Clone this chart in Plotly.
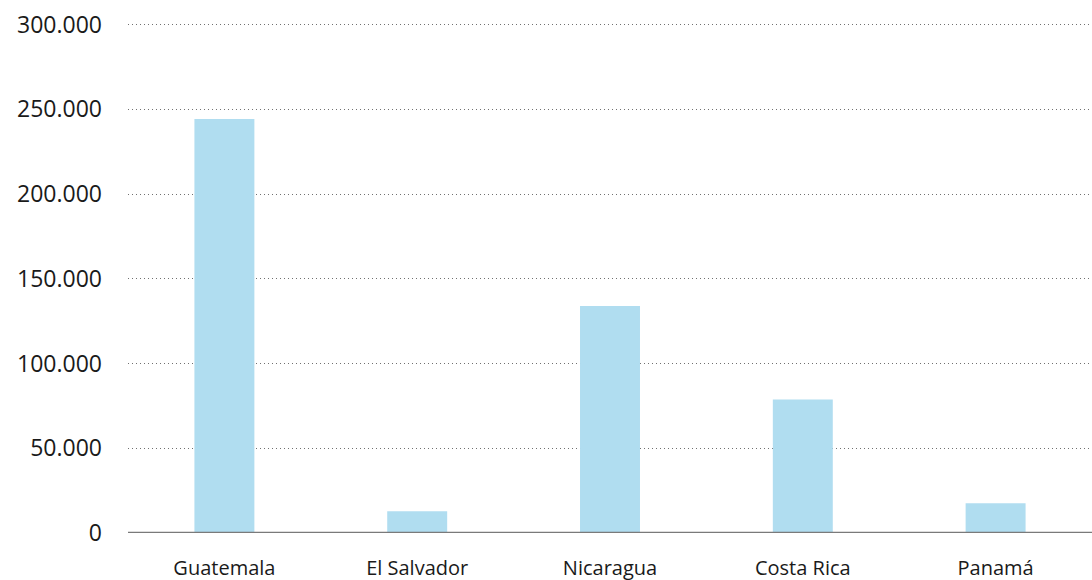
import plotly.graph_objects as go

countries = ["Guatemala", "El Salvador", "Nicaragua", "Costa Rica", "Panamá"]
values = [244200, 12900, 133900, 78700, 17600]
y_ticks = [0, 50000, 100000, 150000, 200000, 250000, 300000]

fig = go.Figure()
fig.add_trace(go.Bar(
    x=countries, y=values,
    marker=dict(color="#b0ddf0", line=dict(width=0)),
    hoverinfo="x+y",
))
fig.add_shape(type="line", xref="paper", yref="y", x0=0, x1=1, y0=0, y1=0,
              line=dict(color="#7a7a7a", width=2.5), layer="above")

fig.update_layout(
    width=1092, height=580,
    margin=dict(l=128, r=0, t=22, b=47, autoexpand=False),
    paper_bgcolor="white", plot_bgcolor="white",
    separators=",.",
    bargap=0.689,
    showlegend=False,
    font=dict(family="Open Sans, sans-serif", color="#1a1a1a"),
)
fig.update_yaxes(
    range=[0, 301500], tickvals=y_ticks, tickformat=",d",
    showgrid=True, gridcolor="#707070", griddash="1px,3px", gridwidth=1,
    zeroline=False, showline=False, ticks="", automargin=False,
    ticklabeloverflow="allow",
    tickfont=dict(size=23, color="#1a1a1a"), ticklabelstandoff=25,
)
fig.update_xaxes(
    showgrid=False, showline=False, ticks="", zeroline=False, automargin=False,
    ticklabeloverflow="allow",
    tickfont=dict(size=20, color="#1a1a1a"), ticklabelstandoff=21,
)
fig.write_html(
    "out.html",
    config={"displayModeBar": False},
    post_script="document.body.style.margin='0';document.body.style.overflow='hidden';",
)
